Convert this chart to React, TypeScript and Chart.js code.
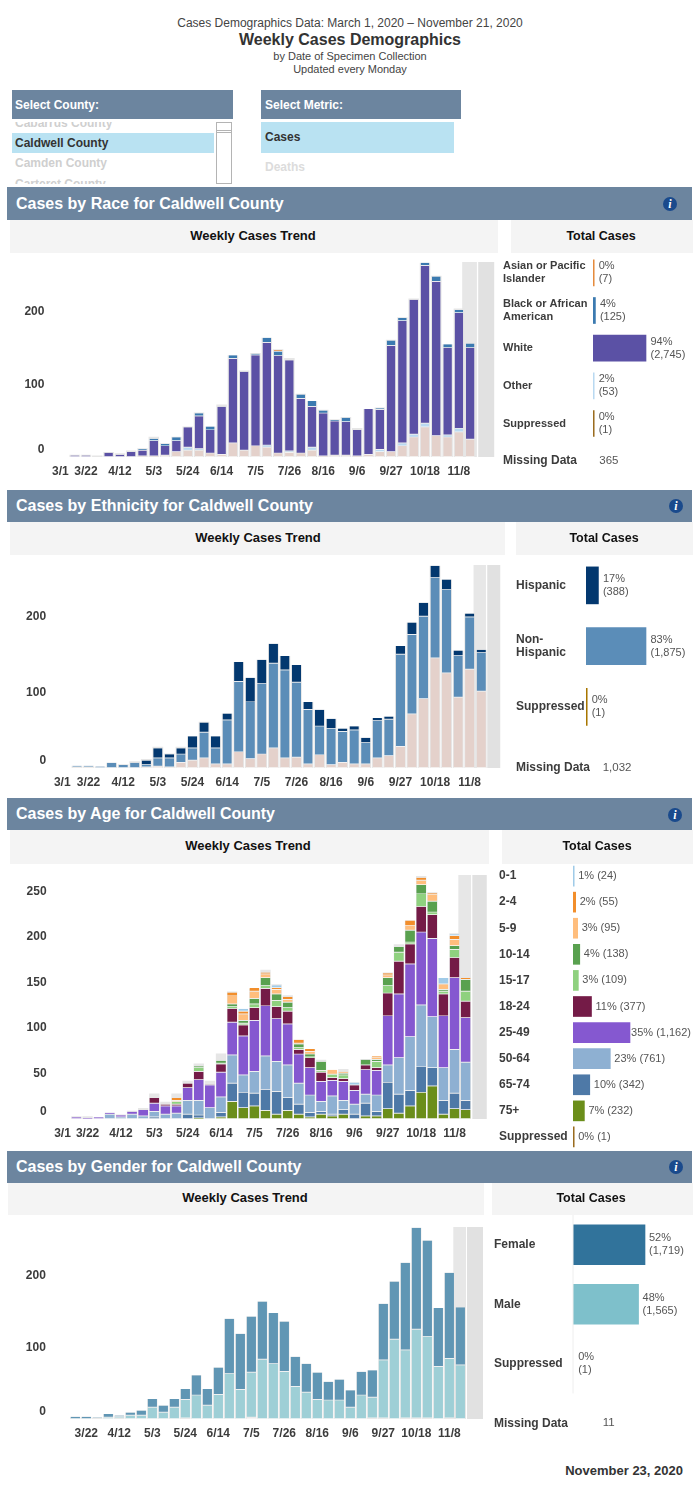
import React, { useEffect, useRef } from "react";
import { Chart, registerables } from "chart.js";

Chart.register(...registerables);

const FONT = "'Liberation Sans', Arial, sans-serif";

const weeks = ["3/1","3/8","3/15","3/22","3/29","4/5","4/12","4/19","4/26","5/3","5/10","5/17","5/24","5/31","6/7","6/14","6/21","6/28","7/5","7/12","7/19","7/26","8/2","8/9","8/16","8/23","8/30","9/6","9/13","9/20","9/27","10/4","10/11","10/18","10/25","11/1","11/8","11/15"];
const tickLabels = ["3/1","3/22","4/12","5/3","5/24","6/14","7/5","7/26","8/16","9/6","9/27","10/18","11/8"];

const weeklyTotals = [0,0,3,3,2,7,5,9,12,28,19,28,42,61,42,72,140,119,143,164,148,136,87,77,65,52,55,40,66,68,161,192,218,267,249,155,204,156];

const raceMissing = [0,0,0,0,0,0,0,0,1,1,2,7,9,9,5,3,19,9,15,13,5,6,5,9,1,2,2,1,3,7,7,15,27,41,29,27,34,24];
const raceOther = [0,0,0,0,0,0,0,0,0,0,0,0,4,2,0,0,0,0,0,3,0,2,0,4,0,0,0,0,0,3,0,4,4,5,0,3,5,0];
const raceWhite = [0,0,2,2,0,6,3,7,8,21,13,15,28,45,32,66,116,108,125,141,134,125,75,56,59,47,46,36,63,55,146,168,185,217,212,120,159,126];
const raceBlack = [0,0,0,0,0,0,0,0,2,3,3,5,0,4,5,0,5,0,2,7,6,0,6,8,4,2,6,0,0,2,7,4,0,4,7,5,4,6];
const raceAsian = [0,0,0,0,0,0,0,0,0,0,0,0,0,0,0,0,0,0,0,0,2,0,0,0,0,0,0,0,0,0,0,0,0,0,0,0,0,0];

const ethMissing = [0,0,1,1,0,0,0,0,1,2,1,7,10,13,5,5,21,12,18,26,13,14,5,17,4,7,5,5,13,16,28,71,91,145,125,93,130,101];
const ethNonHispanic = [0,0,2,2,2,7,4,7,3,11,12,11,16,34,21,58,93,75,93,112,116,99,72,38,48,41,45,28,49,48,122,105,109,106,110,55,69,51];
const ethHispanic = [0,0,0,0,0,0,0,0,6,13,5,8,16,13,16,9,26,32,32,26,19,23,10,22,13,4,5,7,4,4,11,16,18,16,14,7,5,4];

const age75 = [0,0,0,0,0,0,0,0,0,0,0,0,0,1,0,2,19,12,14,9,5,9,5,2,5,3,5,0,3,3,11,6,14,29,36,5,11,10];
const age65 = [0,0,0,0,0,0,0,0,0,2,0,0,5,3,0,5,20,17,14,23,25,14,11,5,3,2,5,5,14,5,29,21,17,28,20,15,17,10];
const age50 = [0,0,0,0,0,5,2,5,3,6,5,6,15,16,12,17,31,19,24,37,33,36,23,19,11,20,10,11,10,18,19,40,59,68,56,36,48,42];
const age25 = [0,0,2,1,2,2,2,3,7,9,9,8,14,23,25,27,36,43,56,55,47,45,32,30,22,17,21,15,27,27,54,70,80,80,86,57,79,49];
const age18 = [0,0,0,0,0,0,0,0,0,6,2,2,5,9,1,9,15,12,14,19,13,14,5,11,10,3,3,6,5,3,25,36,22,28,26,24,22,18];
const age15 = [0,0,0,0,0,0,0,0,0,0,0,3,0,4,0,1,2,2,4,3,7,4,2,1,2,4,4,0,0,7,8,10,2,14,3,3,9,11];
const age10 = [0,0,0,0,0,0,0,0,0,0,0,0,0,2,0,3,3,3,6,9,7,6,4,3,10,0,2,0,6,2,9,6,13,10,12,2,4,13];
const age5 = [0,0,0,0,0,0,0,0,0,0,0,1,0,0,0,0,9,7,8,4,5,3,1,3,0,5,2,0,0,2,3,0,5,5,7,6,7,0];
const age2 = [0,0,0,0,0,0,0,0,0,0,0,3,0,0,0,0,4,3,4,2,2,3,4,3,0,0,0,0,0,2,2,0,6,3,2,0,4,2];
const age0 = [0,0,0,0,0,0,0,0,0,0,0,0,0,0,0,0,0,3,0,0,3,0,0,0,0,0,0,3,0,0,0,0,0,0,0,7,2,0];

const genderMissing = [0,0,0,0,1,0,1,0,0,0,0,0,1,0,0,0,0,0,2,0,0,0,0,0,0,0,0,0,0,1,1,0,1,1,1,0,1,0];
const genderMale = [0,0,0,0,0,2,2,5,5,16,9,16,26,33,19,34,63,41,63,83,77,66,45,37,27,26,26,16,33,29,81,111,95,124,114,73,83,75];
const genderFemale = [0,0,3,3,1,5,2,4,7,12,10,12,15,28,23,38,77,78,78,81,71,70,42,40,38,26,29,24,33,38,79,81,122,142,134,82,120,81];

const raceCats = [["Asian or Pacific","Islander"],["Black or African","American"],"White","Other","Suppressed","Missing Data"];
const racePct = [0,4,94,2,0];
const raceCounts = [7,125,2745,53,1];
const raceMissingText = "365";

const ethCats = ["Hispanic",["Non-","Hispanic"],"Suppressed","Missing Data"];
const ethPct = [17,83,0];
const ethCounts = [388,1875,1];
const ethMissingText = "1,032";

const ageCats = ["0-1","2-4","5-9","10-14","15-17","18-24","25-49","50-64","65-74","75+","Suppressed"];
const agePct = [1,2,3,4,3,11,35,23,10,7,0];
const ageCounts = [24,55,95,138,109,377,1162,761,342,232,1];

const genderCats = ["Female","Male","Suppressed","Missing Data"];
const genderPct = [52,48,0];
const genderCounts = [1719,1565,1];
const genderMissingText = "11";

const C = {
  missing: "#e4d1cb", other: "#b9d9f1", white: "#5b51a5", black: "#3b7ab0", asian: "#e58b3d", supp: "#9a6c1f",
  nonHisp: "#5b8db8", hisp: "#03386f", ethSupp: "#a87600",
  a75: "#6b8e1a", a65: "#4e79a7", a50: "#8eb0d2", a25: "#8558d0", a18: "#741b47", a15: "#8fd17f", a10: "#59a14f", a5: "#ffbe7d", a2: "#f28e2b", a0: "#a0cbe8",
  femaleTrend: "#6096b4", maleTrend: "#9ecfd6", female: "#31739b", male: "#7ec0cb", gray: "#e6e6e6",
};

const fmt = (n: number) => n.toLocaleString("en-US");

function zeroPadding(s: any) {
  s.paddingTop = 0;
  s.paddingBottom = 0;
  s.paddingLeft = 0;
  s.paddingRight = 0;
  s._computeLabelArea = () => undefined;
}

function Trend({ bandTop, baseline, c0, step, bands, segPct, firstTick, series }: any) {
  const ref = useRef<HTMLCanvasElement>(null);
  const W = 510;
  const padTop = 4;
  const H = baseline - bandTop + padTop + 26;
  useEffect(() => {
    const bandPlugin = {
      id: "bands",
      beforeDatasetsDraw(chart: any) {
        const { ctx, chartArea, scales } = chart;
        const cx = scales.x.getPixelForValue(weeks.length - 1);
        ctx.save();
        bands.forEach((b: number[], i: number) => {
          ctx.fillStyle = i === 0 ? "#e7e7e7" : "#e1e1e1";
          ctx.fillRect(cx + b[0], chartArea.top, b[1] - b[0], chartArea.bottom - chartArea.top);
        });
        ctx.restore();
      },
    };
    const chart = new Chart(ref.current as any, {
      type: "bar",
      data: {
        labels: weeks,
        datasets: [
          { label: "Total", data: weeklyTotals, backgroundColor: C.gray, stack: "bg", order: 10, grouped: false, barPercentage: 0.93, categoryPercentage: 1, borderWidth: 0 } as any,
          ...series.map((s: any) => ({
            label: s.label, data: s.data, backgroundColor: s.color, stack: "seg", order: 1, grouped: false,
            barPercentage: segPct, categoryPercentage: 1, borderColor: "#ffffff", borderWidth: { bottom: 0.7 }, borderSkipped: false,
          })),
        ],
      },
      options: {
        animation: false, responsive: false,
        layout: { autoPadding: false, padding: { top: padTop, right: W - (c0 - step / 2 + weeks.length * step), left: 0, bottom: 0 } },
        plugins: { legend: { display: false }, tooltip: { enabled: false } },
        scales: {
          x: {
            stacked: true, grid: { display: false, drawTicks: false }, border: { display: false },
            afterFit: (s: any) => { s.height = 26; zeroPadding(s); },
            ticks: {
              autoSkip: false, maxRotation: 0, minRotation: 0, padding: 7,
              color: "#3c3c3c", font: { family: FONT, size: 12, weight: "bold" },
              callback: (_v: any, i: number) => {
                const w = weeks[i];
                if (i === 0) return firstTick ? "     " + w : "";
                return tickLabels.includes(w) ? w : "";
              },
            },
          },
          y: {
            stacked: true, min: 0, max: 268, grid: { display: false, drawTicks: false }, border: { display: false },
            afterFit: (s: any) => { s.width = c0 - step / 2; zeroPadding(s); },
            ticks: {
              stepSize: 50 * (series.length > 6 ? 1 : 2), includeBounds: false, padding: 2,
              color: "#3c3c3c", font: { family: FONT, size: 12, weight: "bold" },
              callback: (v: any) => (v === 0 ? ["0", ""] : String(v)),
            },
          },
        },
      },
      plugins: [bandPlugin],
    } as any);
    return () => chart.destroy();
  }, []);
  return <canvas ref={ref} width={W} height={H} style={{ position: "absolute", left: 0, top: bandTop - padTop, display: "block" }} />;
}

function Totals({ cats, values, colors, texts, missingText, missingOffset, left, barStart, c0, step, pxPerUnit, barH, gap, axisLine, labelSize = 12 }: any) {
  const ref = useRef<HTMLCanvasElement>(null);
  const W = 699 - left;
  const H = Math.round(cats.length * step);
  useEffect(() => {
    const labelPlugin = {
      id: "vals",
      afterDatasetsDraw(chart: any) {
        const { ctx, scales } = chart;
        const meta = chart.getDatasetMeta(0);
        const x0 = scales.x.getPixelForValue(0);
        ctx.save();
        if (axisLine) {
          ctx.strokeStyle = "#eeeeee";
          ctx.lineWidth = 1;
          ctx.beginPath();
          ctx.moveTo(x0, 0);
          ctx.lineTo(x0, scales.y.getPixelForTick(values.length - 1) + step / 2);
          ctx.stroke();
        }
        ctx.font = `11px ${FONT}`;
        ctx.fillStyle = "#555555";
        ctx.textBaseline = "middle";
        ctx.textAlign = "left";
        values.forEach((_v: number, i: number) => {
          const el = meta.data[i];
          const lines: string[] = texts[i];
          const tw = Math.max(...lines.map((l) => ctx.measureText(l).width));
          const x = Math.min(el.x + gap, W - 8 - tw);
          const lh = 13;
          lines.forEach((l, k) => ctx.fillText(l, x, el.y + (k - (lines.length - 1) / 2) * lh));
        });
        if (missingText) {
          ctx.font = `11.5px ${FONT}`;
          ctx.fillText(missingText, x0 + missingOffset, scales.y.getPixelForTick(cats.length - 1));
        }
        ctx.restore();
      },
    };
    const chart = new Chart(ref.current as any, {
      type: "bar",
      data: {
        labels: cats,
        datasets: [{ data: [...values, ...cats.slice(values.length).map(() => null)], backgroundColor: colors, barThickness: barH, minBarLength: 1.2, borderWidth: 0 }],
      },
      options: {
        indexAxis: "y", animation: false, responsive: false,
        layout: { autoPadding: false, padding: 0 },
        plugins: { legend: { display: false }, tooltip: { enabled: false } },
        scales: {
          x: { display: false, min: 0, max: (W - (barStart - left)) / pxPerUnit, afterFit: zeroPadding },
          y: {
            grid: { display: false, drawTicks: false }, border: { display: false },
            afterFit: (s: any) => { s.width = barStart - left; zeroPadding(s); },
            ticks: {
              autoSkip: false, crossAlign: "far", color: "#3c3c3c",
              font: (ctx: any) => ({ family: FONT, size: cats[ctx.index] === "Missing Data" ? 12 : labelSize, weight: "bold", lineHeight: 13 / (cats[ctx.index] === "Missing Data" ? 12 : labelSize) }),
            },
          },
        },
      },
      plugins: [labelPlugin],
    } as any);
    return () => chart.destroy();
  }, []);
  return <canvas ref={ref} width={W} height={H} style={{ position: "absolute", left, top: c0 - step / 2, display: "block" }} />;
}

function Box({ x, y, w, h, c, border }: any) {
  return <div style={{ position: "absolute", left: x, top: y, width: w, height: h, background: c, border, boxSizing: "border-box" }} />;
}

function Txt({ x, y, children, size = 12, bold, color = "#333", align = "left", w }: any) {
  const width = w ?? 400;
  const left = align === "center" ? x - width / 2 : align === "right" ? x - width : x;
  return (
    <div style={{ position: "absolute", left, top: y - 10, width, height: 20, lineHeight: "20px", fontFamily: FONT, fontSize: size, fontWeight: bold ? "bold" : "normal", color, textAlign: align, whiteSpace: "nowrap" }}>
      {children}
    </div>
  );
}

function Section({ title, bandY, bandH, headerEnd, trendL, trendR, totalL, trendCx, totalCx, headY, iconX, iconY }: any) {
  return (
    <>
      <Box x={trendL} y={bandY + bandH} w={trendR - trendL} h={headerEnd - bandY - bandH} c="#f4f4f4" />
      <Box x={totalL} y={bandY + bandH} w={693 - totalL} h={headerEnd - bandY - bandH} c="#f4f4f4" />
      <Box x={7} y={bandY} w={685} h={bandH} c="#6c859f" />
      <Txt x={16} y={bandY + bandH / 2} size={16} bold color="#ffffff">{title}</Txt>
      <div style={{ position: "absolute", left: iconX - 7, top: iconY - 7, width: 14, height: 14, borderRadius: 7, background: "#1a4a8c", color: "#fff", fontFamily: "'Liberation Serif', serif", fontStyle: "italic", fontWeight: "bold", fontSize: 12, lineHeight: "14px", textAlign: "center" }}>i</div>
      <Txt x={trendCx} y={headY} size={13} bold color="#111" align="center">Weekly Cases Trend</Txt>
      <Txt x={totalCx} y={headY} size={12.5} bold color="#111" align="center">Total Cases</Txt>
    </>
  );
}

const two = (p: number[], c: number[]) => p.map((v, i) => [`${v}%`, `(${fmt(c[i])})`]);
const one = (p: number[], c: number[]) => p.map((v, i) => [`${v}% (${fmt(c[i])})`]);

export default function App() {
  return (
    <div style={{ position: "absolute", left: 0, top: 0, width: 699, height: 1499, background: "#fff", overflow: "hidden" }}>
      <Txt x={350} y={23} align="center" w={600} color="#444">Cases Demographics Data: March 1, 2020 – November 21, 2020</Txt>
      <Txt x={350} y={39.5} align="center" w={600} size={16} bold>Weekly Cases Demographics</Txt>
      <Txt x={350} y={55.5} align="center" w={600} size={11} color="#444">by Date of Specimen Collection</Txt>
      <Txt x={350} y={68.5} align="center" w={600} size={11} color="#444">Updated every Monday</Txt>

      <Box x={12} y={90} w={221} h={29} c="#6c859f" />
      <Txt x={15} y={104.5} bold color="#fff">Select County:</Txt>
      <Box x={261} y={90} w={200} h={29} c="#6c859f" />
      <Txt x={265} y={104.5} bold color="#fff">Select Metric:</Txt>

      <div style={{ position: "absolute", left: 12, top: 122, width: 204, height: 62, overflow: "hidden" }}>
        <Txt x={3} y={1} bold color="#cfcfcf">Cabarrus County</Txt>
        <Box x={0} y={11} w={202} h={20} c="#b9e2f2" />
        <Txt x={3} y={21} bold color="#333">Caldwell County</Txt>
        <Txt x={3} y={41} bold color="#cfcfcf">Camden County</Txt>
        <Txt x={3} y={62} bold color="#cfcfcf">Carteret County</Txt>
      </div>
      <Box x={216} y={122} w={16} h={62} c="#fff" border="1px solid #b4b4b4" />
      <Box x={216} y={130} w={16} h={3} c="#fff" border="1px solid #b4b4b4" />

      <Box x={261} y={122} w={193} h={31} c="#b9e2f2" />
      <Txt x={265} y={137} bold color="#333">Cases</Txt>
      <Txt x={265} y={167} bold color="#dcdcdc">Deaths</Txt>

      <Section title="Cases by Race for Caldwell County" bandY={187} bandH={33} headerEnd={253} trendL={10} trendR={498} totalL={511} trendCx={253} totalCx={601} headY={236} iconX={670} iconY={204} />
      <Trend bandTop={262} baseline={457} c0={52.1} step={11.3} bands={[[-8, 6.7], [8, 24]]} segPct={0.76} firstTick
        series={[
          { label: "Missing Data", data: raceMissing, color: C.missing },
          { label: "Other", data: raceOther, color: C.other },
          { label: "White", data: raceWhite, color: C.white },
          { label: "Black or African American", data: raceBlack, color: C.black },
          { label: "Asian or Pacific Islander", data: raceAsian, color: C.asian },
        ]} />
      <Totals cats={raceCats} values={raceCounts} colors={[C.asian, C.black, C.white, C.other, C.supp]} texts={two(racePct, raceCounts)} missingText={raceMissingText} missingOffset={6.3}
        left={503} barStart={593} c0={273} step={37.6} pxPerUnit={53 / 2745} barH={26} gap={4.5} labelSize={11} />

      <Section title="Cases by Ethnicity for Caldwell County" bandY={490} bandH={32} headerEnd={555} trendL={10} trendR={505} totalL={516} trendCx={258} totalCx={604} headY={538} iconX={676} iconY={506} />
      <Trend bandTop={565} baseline={768} c0={53.9} step={11.55} bands={[[-7.7, 4.7], [6, 19]]} segPct={0.8} firstTick
        series={[
          { label: "Missing Data", data: ethMissing, color: C.missing },
          { label: "Non-Hispanic", data: ethNonHispanic, color: C.nonHisp },
          { label: "Hispanic", data: ethHispanic, color: C.hisp },
        ]} />
      <Totals cats={ethCats} values={ethCounts} colors={[C.hisp, C.nonHisp, C.ethSupp]} texts={two(ethPct, ethCounts)} missingText={ethMissingText} missingOffset={16.7}
        left={516} barStart={586} c0={585.5} step={60.7} pxPerUnit={0.032} barH={37} gap={4.5} />

      <Section title="Cases by Age for Caldwell County" bandY={798} bandH={32} headerEnd={864} trendL={10} trendR={489} totalL={502} trendCx={248} totalCx={597} headY={846} iconX={675} iconY={815} />
      <Trend bandTop={875} baseline={1119} c0={54.2} step={11.12} bands={[[-7.3, 5.4], [6.7, 21.1]]} segPct={0.88} firstTick
        series={[
          { label: "75+", data: age75, color: C.a75 },
          { label: "65-74", data: age65, color: C.a65 },
          { label: "50-64", data: age50, color: C.a50 },
          { label: "25-49", data: age25, color: C.a25 },
          { label: "18-24", data: age18, color: C.a18 },
          { label: "15-17", data: age15, color: C.a15 },
          { label: "10-14", data: age10, color: C.a10 },
          { label: "5-9", data: age5, color: C.a5 },
          { label: "2-4", data: age2, color: C.a2 },
          { label: "0-1", data: age0, color: C.a0 },
        ]} />
      <Totals cats={ageCats} values={ageCounts} colors={[C.a0, C.a2, C.a5, C.a10, C.a15, C.a18, C.a25, C.a50, C.a65, C.a75, C.supp]} texts={one(agePct, ageCounts)} missingText={null} missingOffset={0}
        left={499} barStart={573} c0={876} step={26.1} pxPerUnit={57 / 1162} barH={20} gap={4} />

      <Section title="Cases by Gender for Caldwell County" bandY={1151} bandH={32} headerEnd={1215} trendL={8} trendR={484} totalL={492} trendCx={245} totalCx={591} headY={1198} iconX={676} iconY={1167} />
      <Trend bandTop={1227} baseline={1419} c0={53.3} step={11} bands={[[-7, 5.7], [6.7, 22.7]]} segPct={0.85} firstTick={false}
        series={[
          { label: "Missing Data", data: genderMissing, color: C.gray },
          { label: "Male", data: genderMale, color: C.maleTrend },
          { label: "Female", data: genderFemale, color: C.femaleTrend },
        ]} />
      <Totals cats={genderCats} values={genderCounts} colors={[C.female, C.male, "#ffffff"]} texts={two(genderPct, genderCounts)} missingText={genderMissingText} missingOffset={29.7}
        left={494} barStart={573} c0={1245} step={59.4} pxPerUnit={72 / 1719} barH={40} gap={4} axisLine />

      <Txt x={683} y={1471} size={13} bold align="right" color="#333">November 23, 2020</Txt>
    </div>
  );
}
